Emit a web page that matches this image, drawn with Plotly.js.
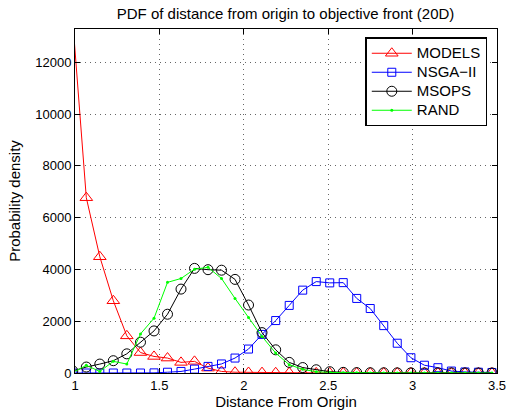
<!DOCTYPE html>
<html>
<head>
<meta charset="utf-8">
<script src="https://cdn.plot.ly/plotly-3.0.1.min.js"></script>
<style>
html,body{margin:0;padding:0;background:#fff;}
#chart{width:509px;height:414px;}
</style>
</head>
<body>
<div id="chart"></div>
<script>
// Bin centres (distance from origin)
const distance = [0.987, 1.067, 1.147, 1.227, 1.307, 1.388, 1.468, 1.548, 1.628, 1.708,
  1.788, 1.868, 1.948, 2.028, 2.108, 2.189, 2.269, 2.349, 2.429, 2.509,
  2.589, 2.669, 2.749, 2.829, 2.909, 2.990, 3.070, 3.150, 3.230, 3.310,
  3.390, 3.470];

const models = [13570, 6770, 4490, 2790, 1435, 790, 640, 577, 410, 450,
  190, 60, 30, 20, 15, 10, 10, 8, 5, 5,
  4, 3, 3, 2, 2, 2, 1, 1, 1, 1,
  1, 1];

const nsga2 = [0, 0, 0, 0, 0, 0, 5, 30, 60, 150,
  255, 350, 577, 925, 1490, 2025, 2610, 3200, 3530, 3480,
  3490, 2880, 2490, 1830, 1150, 590, 300, 205, 75, 40,
  30, 20];

const msops = [80, 230, 345, 475, 740, 1190, 1625, 2270, 3240, 4040,
  3990, 3970, 3615, 2625, 1560, 895, 410, 210, 125, 50,
  25, 15, 10, 8, 5, 5, 3, 2, 2, 1,
  1, 1];

const rand = [20, 295, 60, 450, 345, 1510, 2115, 3500, 3650, 4010,
  4080, 3650, 2880, 2140, 1410, 770, 320, 140, 50, 20,
  10, 5, 4, 3, 2, 2, 1, 1, 1, 1,
  1, 1];

const seriesNames = ['MODELS', 'NSGA\u2212II', 'MSOPS', 'RAND'];

const xTicks = [1, 1.5, 2, 2.5, 3, 3.5];
const xTickLabels = ['1', '1.5', '2', '2.5', '3', '3.5'];
const yTicks = [0, 2000, 4000, 6000, 8000, 10000, 12000];
const yTickLabels = ['0', '2000', '4000', '6000', '8000', '10000', '12000'];

const FONT = 'Liberation Sans, Arial, Helvetica, sans-serif';
const legendName = n => '<span style="font-size:15px">' + n + '</span>';

const traces = [
  {x: distance, y: models, name: legendName(seriesNames[0]), type: 'scatter', mode: 'lines+markers',
   line: {color: '#ff0000', width: 1},
   marker: {symbol: 'triangle-up-open', size: 11, color: '#ff0000', line: {width: 1, color: '#ff0000'}}},
  {x: distance, y: nsga2, name: legendName(seriesNames[1]), type: 'scatter', mode: 'lines+markers',
   line: {color: '#0000ff', width: 1},
   marker: {symbol: 'square-open', size: 8, color: '#0000ff', line: {width: 1, color: '#0000ff'}}},
  {x: distance, y: msops, name: legendName(seriesNames[2]), type: 'scatter', mode: 'lines+markers',
   line: {color: '#000000', width: 1},
   marker: {symbol: 'circle-open', size: 10, color: '#000000', line: {width: 1, color: '#000000'}}},
  {x: distance, y: rand, name: legendName(seriesNames[3]), type: 'scatter', mode: 'lines+markers',
   line: {color: '#00ff00', width: 1},
   marker: {symbol: 'circle', size: 3, color: '#00ff00'}}
];

const axisCommon = {
  showline: true, linecolor: '#000', linewidth: 1, mirror: 'allticks',
  ticks: 'inside', ticklen: 5, tickcolor: '#000', tickwidth: 1,
  showgrid: true, gridcolor: '#666', gridwidth: 1, griddash: '1px,4px',
  zeroline: false, tickfont: {family: FONT, size: 13, color: '#000'}
};

const layout = {
  width: 509, height: 414,
  margin: {l: 75, r: 12, t: 29, b: 41},
  paper_bgcolor: '#fff', plot_bgcolor: '#fff',
  font: {family: FONT, color: '#000'},
  title: {text: 'PDF of distance from origin to objective front (20D)',
          font: {family: FONT, size: 15, color: '#000'},
          x: 0.561, xanchor: 'center', y: 0.966, yanchor: 'middle'},
  xaxis: Object.assign({}, axisCommon, {
    range: [1, 3.5], tickmode: 'array', tickvals: xTicks, ticktext: xTickLabels,
    title: {text: 'Distance From Origin', font: {family: FONT, size: 15, color: '#000'}, standoff: 2}
  }),
  yaxis: Object.assign({}, axisCommon, {
    range: [0, 13285], tickmode: 'array', tickvals: yTicks, ticktext: yTickLabels,
    title: {text: 'Probability density', font: {family: FONT, size: 15, color: '#000'}, standoff: 10}
  }),
  showlegend: true,
  legend: {
    x: 0.977, xanchor: 'right', y: 0.976, yanchor: 'top',
    bgcolor: '#fff', bordercolor: '#000', borderwidth: 1.5,
    font: {family: FONT, size: 11, color: '#000'},
    tracegroupgap: 0, itemwidth: 40
  }
};

Plotly.newPlot('chart', traces, layout, {displayModeBar: false, staticPlot: true});
</script>
</body>
</html>
